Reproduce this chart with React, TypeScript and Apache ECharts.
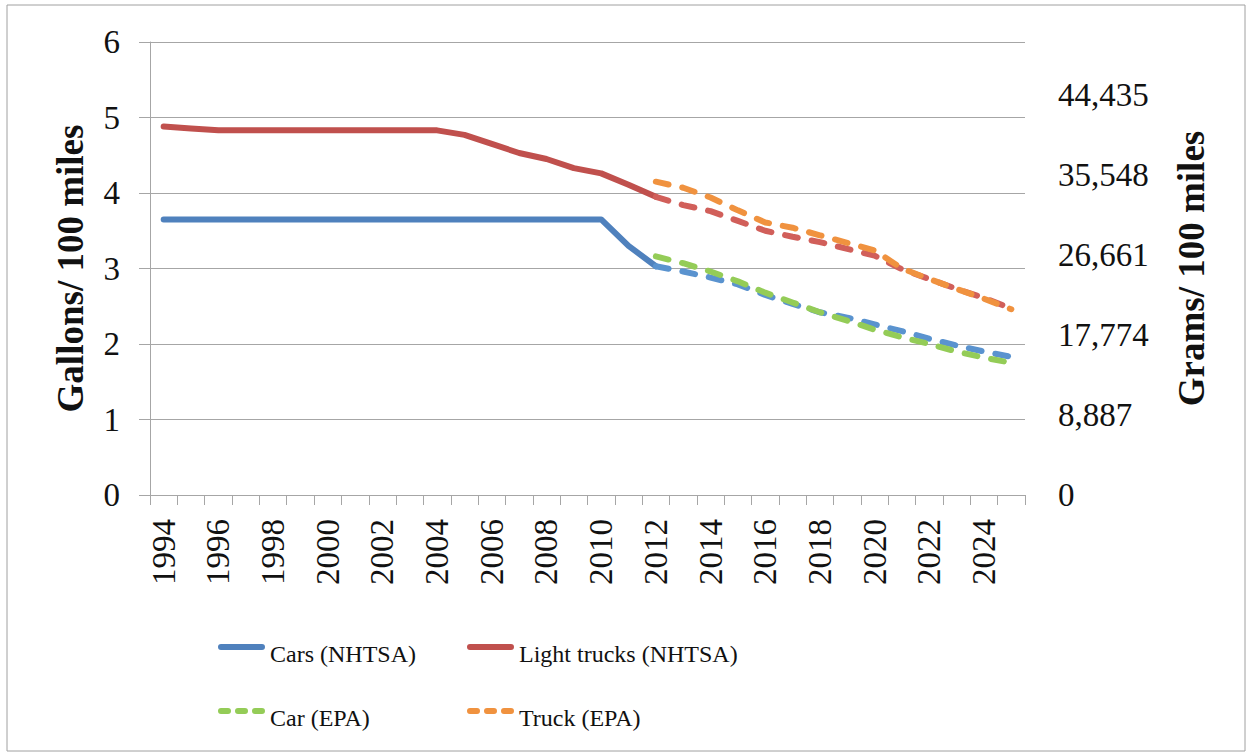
import React, { useEffect, useRef } from "react";
import * as echarts from "echarts";

const years = [
  "1994","1995","1996","1997","1998","1999","2000","2001","2002","2003","2004",
  "2005","2006","2007","2008","2009","2010","2011","2012","2013","2014","2015",
  "2016","2017","2018","2019","2020","2021","2022","2023","2024","2025",
];

const carsNHTSA = [
  3.65,3.65,3.65,3.65,3.65,3.65,3.65,3.65,3.65,3.65,3.65,
  3.65,3.65,3.65,3.65,3.65,3.65,3.3,3.03,null,null,null,
  null,null,null,null,null,null,null,null,null,null,
];
const carsNHTSAProjected = [
  null,null,null,null,null,null,null,null,null,null,null,
  null,null,null,null,null,null,null,3.03,2.96,2.88,2.79,
  2.65,2.53,2.42,2.35,2.26,2.17,2.07,1.98,1.9,1.83,
];
const trucksNHTSA = [
  4.88,4.855,4.83,4.83,4.83,4.83,4.83,4.83,4.83,4.83,4.83,
  4.77,4.65,4.53,4.45,4.33,4.26,4.11,3.95,null,null,null,
  null,null,null,null,null,null,null,null,null,null,
];
const trucksNHTSAProjected = [
  null,null,null,null,null,null,null,null,null,null,null,
  null,null,null,null,null,null,null,3.95,3.84,3.76,3.63,
  3.5,3.42,3.35,3.26,3.17,2.99,2.86,2.73,2.61,2.47,
];
const carEPA = [
  null,null,null,null,null,null,null,null,null,null,null,
  null,null,null,null,null,null,null,3.16,3.07,2.96,2.83,
  2.68,2.55,2.42,2.31,2.19,2.09,2.0,1.9,1.82,1.75,
];
const truckEPA = [
  null,null,null,null,null,null,null,null,null,null,null,
  null,null,null,null,null,null,null,4.15,4.07,3.94,3.77,
  3.61,3.54,3.44,3.34,3.24,3.0,2.86,2.73,2.6,2.46,
];

const leftTicksMax = 6;
const gramsPerGallon = 8887;

const FONT = "'Liberation Serif', 'Times New Roman', serif";
const GRID = "#a6a6a6";

// icon shapes: bar on top (0..6) and an invisible point at y=20 so text sits lower
const solidIcon =
  "path://M3,0H44A3,3,0,0,1,44,6H3A3,3,0,0,1,3,0Z M0,20H0.01V20Z";
const dashIcon =
  "path://M3,0H10A3,3,0,0,1,10,6H3A3,3,0,0,1,3,0Z M20,0H27A3,3,0,0,1,27,6H20A3,3,0,0,1,20,0Z M37,0H44A3,3,0,0,1,44,6H37A3,3,0,0,1,37,0Z M0,20H0.01V20Z";

export default function App() {
  const ref = useRef<HTMLDivElement>(null);
  useEffect(() => {
    if (!ref.current) return;
    const chart = echarts.init(ref.current, undefined, { renderer: "svg" });
    const dash = [13, 14];
    const legendBase = {
      orient: "vertical",
      padding: 0,
      itemWidth: 47,
      itemHeight: 20,
      selectedMode: false,
      itemStyle: { borderWidth: 0 },
      textStyle: {
        fontFamily: FONT,
        fontSize: 24,
        color: "#111",
        lineHeight: 20,
      },
    };
    chart.setOption({
      animation: false,
      backgroundColor: "#fff",
      graphic: [
        {
          type: "rect",
          shape: { x: 7, y: 5, width: 1238, height: 746 },
          style: { fill: "none", stroke: "#a0a0a0", lineWidth: 1 },
          silent: true,
        },
      ],
      grid: { left: 150, right: 225, top: 42, bottom: 261 },
      legend: [
        { ...legendBase, left: 218, top: 642, data: [{ name: "Cars (NHTSA)", icon: solidIcon }] },
        { ...legendBase, left: 467, top: 642, data: [{ name: "Light trucks (NHTSA)", icon: solidIcon }] },
        { ...legendBase, left: 218, top: 706, data: [{ name: "Car (EPA)", icon: dashIcon }] },
        { ...legendBase, left: 467, top: 706, data: [{ name: "Truck (EPA)", icon: dashIcon }] },
      ],
      xAxis: {
        type: "category",
        data: years,
        boundaryGap: true,
        axisLine: { show: true, lineStyle: { color: GRID, width: 1 } },
        axisTick: { show: true, interval: 0, length: 10, lineStyle: { color: GRID } },
        axisLabel: {
          interval: 1,
          rotate: 90,
          margin: 24,
          fontFamily: FONT,
          fontSize: 33,
          color: "#111",
        },
        splitLine: { show: false },
      },
      yAxis: [
        {
          type: "value",
          min: 0,
          max: leftTicksMax,
          interval: 1,
          name: "Gallons/ 100 miles",
          nameLocation: "middle",
          nameGap: 61,
          nameTextStyle: { fontFamily: FONT, fontSize: 37, fontWeight: "bold", color: "#111" },
          axisLine: { show: true, lineStyle: { color: GRID, width: 1 } },
          axisTick: { show: true, length: 11, lineStyle: { color: GRID } },
          axisLabel: { margin: 30, fontFamily: FONT, fontSize: 33, color: "#111" },
          splitLine: { show: true, lineStyle: { color: GRID, width: 1 } },
        },
        {
          type: "value",
          position: "right",
          min: 0,
          max: 50300,
          interval: gramsPerGallon,
          name: "Grams/ 100 miles",
          nameLocation: "middle",
          nameGap: 148,
          nameTextStyle: { fontFamily: FONT, fontSize: 37, fontWeight: "bold", color: "#111" },
          axisLine: { show: false },
          axisTick: { show: false },
          splitLine: { show: false },
          axisLabel: {
            margin: 33,
            showMaxLabel: false,
            fontFamily: FONT,
            fontSize: 33,
            color: "#111",
            formatter: (v: number) => v.toLocaleString("en-US"),
          },
        },
      ],
      series: [
        {
          name: "Cars (NHTSA)",
          type: "line",
          data: carsNHTSA,
          symbol: "none",
          connectNulls: false,
          lineStyle: { color: "#4f81bd", width: 6, cap: "round", join: "round" },
          itemStyle: { color: "#4f81bd" },
          z: 2,
        },
        {
          name: "Light trucks (NHTSA)",
          type: "line",
          data: trucksNHTSA,
          symbol: "none",
          lineStyle: { color: "#c0504d", width: 6, cap: "round", join: "round" },
          itemStyle: { color: "#c0504d" },
          z: 2,
        },
        {
          name: "Cars (NHTSA) projected",
          type: "line",
          data: carsNHTSAProjected,
          symbol: "none",
          lineStyle: { color: "#5a93cf", width: 6, type: dash, cap: "round", join: "round" },
          itemStyle: { color: "#5a93cf" },
          z: 3,
        },
        {
          name: "Light trucks (NHTSA) projected",
          type: "line",
          data: trucksNHTSAProjected,
          symbol: "none",
          lineStyle: { color: "#d15f5a", width: 6, type: dash, cap: "round", join: "round" },
          itemStyle: { color: "#d15f5a" },
          z: 3,
        },
        {
          name: "Car (EPA)",
          type: "line",
          data: carEPA,
          symbol: "none",
          lineStyle: { color: "#94cc57", width: 6, type: dash, cap: "round", join: "round" },
          itemStyle: { color: "#94cc57" },
          z: 4,
        },
        {
          name: "Truck (EPA)",
          type: "line",
          data: truckEPA,
          symbol: "none",
          lineStyle: { color: "#f0923f", width: 6, type: dash, cap: "round", join: "round" },
          itemStyle: { color: "#f0923f" },
          z: 4,
        },
      ],
    });
    return () => chart.dispose();
  }, []);
  return (
    <div
      ref={ref}
      style={{ position: "absolute", left: 0, top: 0, width: 1250, height: 756 }}
    />
  );
}
